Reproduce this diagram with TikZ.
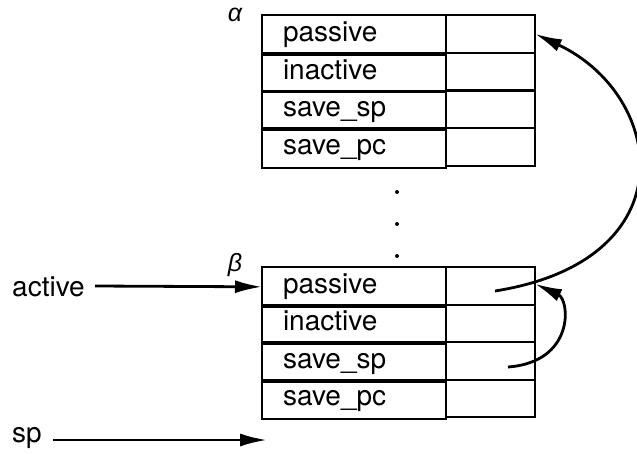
\documentclass[tikz,border=0pt]{standalone}
\usepackage{fontspec}
\setmainfont{TeX Gyre Heros}
\newfontfamily\greekfont{Liberation Sans}
\usetikzlibrary{arrows.meta}
\begin{document}
\begin{tikzpicture}[x=1pt,y=-1pt,
  font=\fontsize{28}{33}\selectfont,
  namecell/.style={draw,line width=2pt,outer sep=0pt,anchor=north west,
    minimum width=184pt,minimum height=37.6pt,inner xsep=21pt,
    text width=142pt,align=left},
  valcell/.style={draw,line width=2pt,outer sep=0pt,anchor=north west,
    minimum width=89pt,minimum height=37.6pt},
  ptr/.style={line width=2.8pt,-{Latex[length=27pt,width=13pt]}},
  tag/.style={font=\fontsize{25}{30}\selectfont\greekfont\itshape,inner sep=0pt},
  lbl/.style={anchor=west,inner sep=0pt},
  dot/.style={circle,fill,inner sep=0pt,minimum size=4pt}]
\useasboundingbox (0,0) rectangle (637,453);

% record alpha
\foreach \r/\t [count=\i] in {0/passive,1/inactive,2/save\_sp,3/save\_pc}{
  \node[namecell] (a\i) at (262,15+37.75*\r) {\strut\t};
  \node[valcell] (av\i) at (446,15+37.75*\r) {};
}
\node[tag] (alpha) at (235,15) {α};

% elision dots
\node[dot] (d1) at (397,192) {};
\node[dot] (d2) at (397,224) {};
\node[dot] (d3) at (397,256) {};

% record beta
\foreach \r/\t [count=\i] in {0/passive,1/inactive,2/save\_sp,3/save\_pc}{
  \node[namecell] (b\i) at (262,267+37.5*\r) {\strut\t};
  \node[valcell] (bv\i) at (446,267+37.5*\r) {};
}
\node[tag] (beta) at (235,265) {β};

% external pointers
\node[lbl] (act) at (12,287) {active};
\draw[ptr] (95,286) -- (b1.west);
\node[lbl] (sp) at (12,438) {sp};
\coordinate (spend) at (267,440);
\draw[ptr] (53,440) -- (spend);

% links stored in the beta record
\coordinate (p1) at (495,291);
\coordinate (p3) at (508,367);
\draw[ptr] (p1) .. controls (690,260) and (665,95) .. (av1.east);
\draw[ptr] (p3) .. controls (575,362) and (570,300) .. ([yshift=2pt]bv1.east);
\end{tikzpicture}
\end{document}
